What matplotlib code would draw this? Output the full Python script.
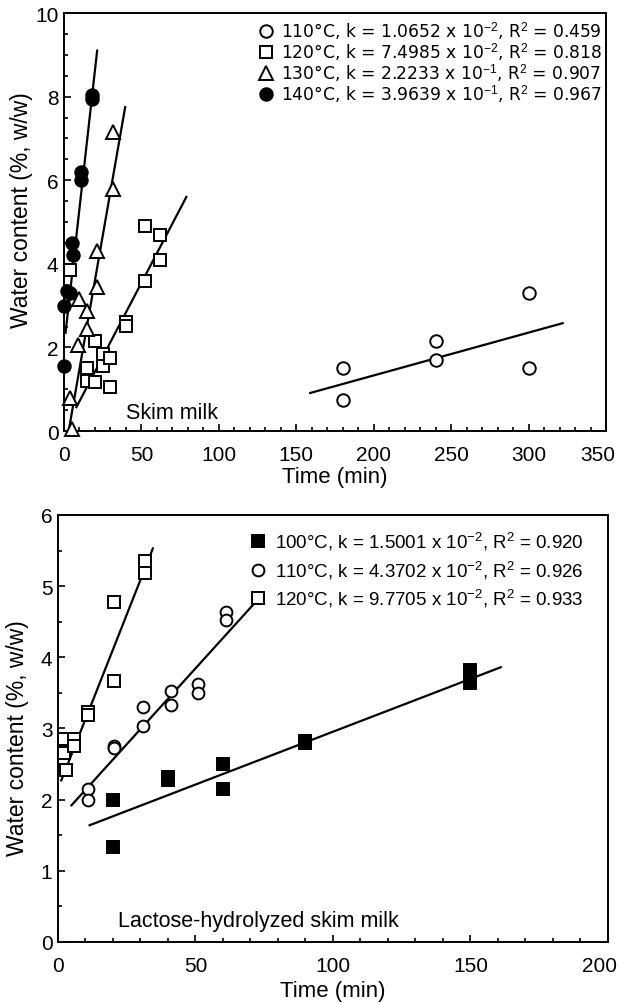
import numpy as np
import matplotlib
matplotlib.use("Agg")
from matplotlib import pyplot as plt
from matplotlib.ticker import MultipleLocator
from matplotlib.transforms import ScaledTranslation

plt.rcParams['font.family'] = ['Liberation Sans', 'DejaVu Sans']
plt.rcParams['mathtext.fontset'] = 'custom'
plt.rcParams['mathtext.rm'] = 'Liberation Sans'
plt.rcParams['mathtext.it'] = 'Liberation Sans'

# --- skim milk (top panel) ---
t110 = [180, 180, 240, 240, 300, 300]
w110 = [1.5, 0.75, 2.15, 1.7, 3.3, 1.5]
t120 = [4, 15, 15, 20, 20, 25, 25, 30, 30, 40, 40, 52, 52, 62, 62]
w120 = [3.85, 1.5, 1.2, 2.15, 1.18, 1.85, 1.55, 1.75, 1.05, 2.62, 2.52, 4.9, 3.6, 4.7, 4.1]
t130 = [5, 4, 10, 9, 15, 15, 21, 21, 31.5, 31.5]
w130 = [0.05, 0.8, 3.15, 2.05, 2.88, 2.45, 4.3, 3.45, 7.15, 5.8]
t140 = [0, 0, 2, 4, 5, 6, 11, 11, 18, 18]
w140 = [1.55, 3.0, 3.35, 3.3, 4.5, 4.2, 6.0, 6.2, 7.95, 8.05]

# fitted lines: (x start, x end, y start, y end)
fit_top = {
    '110': (159, 322, 0.91, 2.58),
    '120': (8, 79, 0.57, 5.6),
    '130': (3, 39.5, 0.0, 7.75),
    '140': (1, 21.4, 2.35, 9.1),
}
lab_top = {
    '110': r'110°C, k = 1.0652 x 10$^{-2}$, R$^{2}$ = 0.459',
    '120': r'120°C, k = 7.4985 x 10$^{-2}$, R$^{2}$ = 0.818',
    '130': r'130°C, k = 2.2233 x 10$^{-1}$, R$^{2}$ = 0.907',
    '140': r'140°C, k = 3.9639 x 10$^{-1}$, R$^{2}$ = 0.967',
}

# --- lactose-hydrolyzed skim milk (bottom panel) ---
h100 = [20, 20, 40, 40, 60, 60, 90, 90, 150, 150]
v100 = [2.0, 1.33, 2.32, 2.27, 2.5, 2.15, 2.82, 2.79, 3.82, 3.64]
h110 = [11, 11, 20.5, 20.5, 31, 31, 41, 41, 51, 51, 61, 61]
v110 = [2.15, 2.0, 2.76, 2.72, 3.3, 3.03, 3.53, 3.33, 3.62, 3.5, 4.64, 4.52]
h120 = [2, 2, 3, 6, 6, 11, 11, 20.5, 20.5, 31.5, 31.5]
v120 = [2.85, 2.65, 2.42, 2.85, 2.75, 3.23, 3.19, 4.78, 3.67, 5.35, 5.18]

fit_bot = {
    '100': (11.5, 161, 1.64, 3.86),
    '110': (4.9, 71, 1.92, 4.74),
    '120': (1.2, 34.5, 2.27, 5.53),
}
lab_bot = {
    '100': r'100°C, k = 1.5001 x 10$^{-2}$, R$^{2}$ = 0.920',
    '110': r'110°C, k = 4.3702 x 10$^{-2}$, R$^{2}$ = 0.926',
    '120': r'120°C, k = 9.7705 x 10$^{-2}$, R$^{2}$ = 0.933',
}

fig = plt.figure(figsize=(6.19, 10.04), dpi=100)
ax1 = fig.add_axes([0.1034, 0.5697, 0.8756, 0.4163])
ax2 = fig.add_axes([0.0937, 0.0608, 0.8885, 0.4253])

def style_axis(ax, xmax, ymax):
    ax.set_xlim(0, xmax)
    ax.set_ylim(0, ymax)
    ax.set_xticks(np.arange(0, xmax + 1, 50))
    ax.xaxis.set_minor_locator(MultipleLocator(10))
    ax.yaxis.set_major_locator(MultipleLocator(2 if ymax == 10 else 1))
    ax.yaxis.set_minor_locator(MultipleLocator(0.5))
    ax.tick_params(which='both', direction='in', top=False, right=False, width=1.2)
    ax.tick_params(which='major', length=5, labelsize=15)
    ax.tick_params(which='minor', length=3)
    ax.tick_params(axis='x', pad=10)
    ax.tick_params(axis='y', pad=4)
    for s in ax.spines.values():
        s.set_linewidth(1.4)
    ax.set_xlabel('Time (min)', fontsize=16)
    ax.set_ylabel('Water content (%, w/w)', fontsize=16.5)
    # last x label sits a little left of its tick in the original
    last = ax.xaxis.get_major_ticks()[-1].label1
    last.set_transform(last.get_transform() + ScaledTranslation(-0.08, 0, fig.dpi_scale_trans))

mk = dict(linestyle='none', markeredgecolor='black', markeredgewidth=1.4, clip_on=False, zorder=3)

# top
ax1.plot(t110, w110, marker='o', markersize=9, markerfacecolor='white', label=lab_top['110'], **mk)
ax1.plot(t120, w120, marker='s', markersize=9, markerfacecolor='white', label=lab_top['120'], **mk)
ax1.plot(t130, w130, marker='^', markersize=9.5, markerfacecolor='white', label=lab_top['130'], **mk)
ax1.plot(t140, w140, marker='o', markersize=9, markerfacecolor='black', label=lab_top['140'], **mk)
for key, (x0, x1, y0, y1) in fit_top.items():
    ax1.plot([x0, x1], [y0, y1], color='black', linewidth=1.6, zorder=2)
ax1.text(40, 0.45, 'Skim milk', fontsize=15.5, va='center', ha='left')
style_axis(ax1, 350, 10)
ax1.legend(loc='upper right', bbox_to_anchor=(0.993, 0.985), frameon=False,
           prop={'family': 'DejaVu Sans', 'size': 12.3},
           handlelength=0.8, handletextpad=0.5, labelspacing=-0.05, borderpad=0, borderaxespad=0)

# bottom
ax2.plot(h100, v100, marker='s', markersize=9, markerfacecolor='black', label=lab_bot['100'], **mk)
ax2.plot(h110, v110, marker='o', markersize=8.5, markerfacecolor='white', label=lab_bot['110'], **mk)
ax2.plot(h120, v120, marker='s', markersize=9, markerfacecolor='white', label=lab_bot['120'], **mk)
for key, (x0, x1, y0, y1) in fit_bot.items():
    ax2.plot([x0, x1], [y0, y1], color='black', linewidth=1.6, zorder=2)
ax2.text(22, 0.3, 'Lactose-hydrolyzed skim milk', fontsize=15.5, va='center', ha='left')
style_axis(ax2, 200, 6)
ax2.legend(loc='upper right', bbox_to_anchor=(0.955, 0.965), frameon=False, fontsize=13.5,
           handlelength=0.8, handletextpad=0.5, labelspacing=0.35, borderpad=0, borderaxespad=0)

ax1.xaxis.set_label_coords(0.5, -0.083)
ax2.xaxis.set_label_coords(0.5, -0.088)
ax1.yaxis.set_label_coords(-0.057, 0.53)
ax2.yaxis.set_label_coords(-0.053, 0.48)

fig.savefig('out.png', dpi=100)
